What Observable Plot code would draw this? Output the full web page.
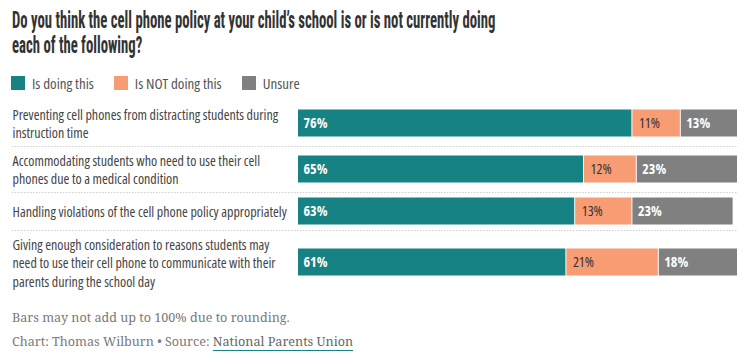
<!DOCTYPE html>
<html><head><meta charset="utf-8">
<script src="https://cdn.jsdelivr.net/npm/d3@7"></script>
<script src="https://cdn.jsdelivr.net/npm/@observablehq/plot@0.6"></script>
<style>
  html, body { margin: 0; padding: 0; background: #fff; }
  #title { padding: 8px 0 0 12px; height: 50px; box-sizing: border-box; font-family: "Roboto", sans-serif; font-stretch: 75%; font-weight: 700; font-size: 23px; line-height: 25px; color: #333; white-space: nowrap; }
  #title span { display: inline-block; transform: scaleX(0.64); transform-origin: left center; }
  figure { margin: 0; }
  .cp-swatches { font-family: "Open Sans", sans-serif; font-stretch: 75%; font-size: 15px; color: #555; margin: 16px 0 1px 11px !important; height: 20px; line-height: 20px; display: flex; }
  .cp-swatch { margin-right: 20px !important; }
  .cp-swatch > svg { margin-right: 7px !important; }
  svg.cp text { font-family: "Open Sans", sans-serif; font-stretch: 75%; }
  #footer { font-family: "Noto Serif", "DejaVu Serif", serif; font-size: 12.6px; line-height: 24px; color: #7a7a7a; padding: 6px 0 0 12px; }
  #footer a { color: #666; text-decoration: underline; text-decoration-color: #178284; text-underline-offset: 4px; text-decoration-thickness: 1px; }
</style>
</head>
<body>
<div id="title"><span>Do you think the cell phone policy at your child’s school is or is not currently doing</span><br><span>each of the following?</span></div>
<div id="chart"></div>
<div id="footer">
  <div>Bars may not add up to 100% due to rounding.</div>
  <div>Chart: Thomas Wilburn • Source: <a href="#">National Parents Union</a></div>
</div>
<script>
const categories = [
  "Preventing cell phones from distracting students during\ninstruction time",
  "Accommodating students who need to use their cell\nphones due to a medical condition",
  "Handling violations of the cell phone policy appropriately",
  "Giving enough consideration to reasons students may\nneed to use their cell phone to communicate with their\nparents during the school day"
];
const responses = ["Is doing this", "Is NOT doing this", "Unsure"];
const isDoing = [76, 65, 63, 61];
const notDoing = [11, 12, 13, 21];
const unsure = [13, 23, 23, 18];
const colors = ["#178284", "#f89c74", "#808080"];

// Row geometry derived from the number of label lines
const lineStep = 18, barH = 27;
let acc = 0;
const rows = categories.map((label, i) => {
  const lines = label.split("\n").length;
  const h = Math.max(lines * lineStep + 10, 38);
  const r = {label, start: acc, end: acc + h, center: acc + h / 2, i};
  acc += h;
  return r;
});
const total = acc;
const boundaries = rows.slice(1).map(r => r.start);

const series = [isDoing, notDoing, unsure];
const segs = [];
rows.forEach((r, i) => {
  let x = 0;
  series.forEach((vals, j) => {
    const v = vals[i];
    segs.push({row: i, response: responses[j], j, value: v, x1: x, x2: x + v,
               y1: r.center - barH / 2, y2: r.center + barH / 2, yc: r.center});
    x += v;
  });
});

const chart = Plot.plot({
  className: "cp",
  width: 749,
  height: total + 6,
  marginLeft: 298,
  marginRight: 11,
  marginTop: 0,
  marginBottom: 6,
  x: {domain: [0, 100], axis: null},
  y: {domain: [0, total], range: [0, total], axis: null},
  color: {domain: responses, range: colors, legend: true, swatchSize: 14},
  marks: [
    Plot.ruleY(boundaries, {y: d => d, stroke: "#cfcfcf", strokeDasharray: "1.5,1.5", insetLeft: -286}),
    Plot.rectX(segs, {x1: "x1", x2: "x2", y1: "y1", y2: "y2", fill: "response", insetRight: 1}),
    Plot.text(rows, {y: "center", text: "label", frameAnchor: "left", dx: -286, textAnchor: "start", lineAnchor: "middle", lineHeight: 1.3, fontSize: 14, fill: "#444"}),
    Plot.text(segs.filter(d => d.j !== 1), {x: "x1", y: "yc", text: d => d.value + "%", dx: 5, textAnchor: "start", fontSize: 14, fontWeight: 700, fill: "white"}),
    Plot.text(segs.filter(d => d.j === 1), {x: "x1", y: "yc", text: d => d.value + "%", dx: 6, textAnchor: "start", fontSize: 14, fontWeight: 500, fill: "#333"})
  ]
});
document.getElementById("chart").appendChild(chart);
</script>
</body></html>
